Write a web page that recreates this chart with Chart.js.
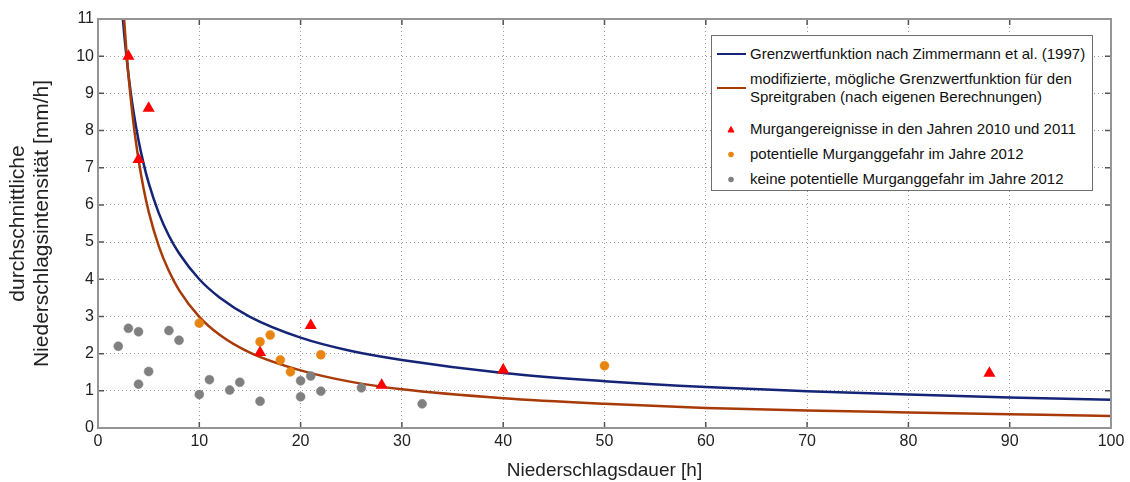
<!DOCTYPE html>
<html>
<head>
<meta charset="utf-8">
<script src="https://cdn.jsdelivr.net/npm/chart.js@4"></script>
<style>
  html, body { margin: 0; padding: 0; background: #fff; }
  #wrap { position: relative; width: 1130px; height: 482px; }
  #legend {
    position: absolute; left: 711px; top: 35px; width: 382px; height: 156px;
    border: 1px solid #6e6e6e; background: #fff; box-sizing: border-box;
    font-family: 'Liberation Sans', Arial, sans-serif; font-size: 15px; color: #111;
  }
  .lg-row { position: absolute; left: 0; right: 0; display: flex; align-items: center; }
  .lg-sym { width: 38px; height: 20px; position: relative; flex: none; }
  .lg-line { position: absolute; left: 5px; width: 29px; top: 9px; height: 2px; }
  .lg-txt { line-height: 18px; white-space: nowrap; }
</style>
</head>
<body>
<div id="wrap">
  <canvas id="chart" width="1130" height="482"></canvas>
  <div id="legend"></div>
</div>
<script>
// threshold curves, values
const curveX        = [2.4, 2.6, 2.8, 3, 3.5, 4, 4.5, 5, 6, 7, 8, 10, 12, 15, 20, 25, 30, 40, 50, 60, 70, 80, 90, 100];
const zimmermannY   = [11.18, 10.55, 10.01, 9.52, 8.52, 7.74, 7.11, 6.59, 5.78, 5.17, 4.70, 4.00, 3.51, 2.99, 2.43, 2.07, 1.83, 1.48, 1.26, 1.10, 0.99, 0.90, 0.82, 0.76];
const spreitgrabenY = [11.78, 10.91, 10.16, 9.51, 8.20, 7.22, 6.44, 5.82, 4.89, 4.22, 3.71, 2.99, 2.51, 2.03, 1.55, 1.24, 1.04, 0.80, 0.65, 0.54, 0.47, 0.42, 0.37, 0.32];

// Murgangereignisse 2010/2011
const eventX = [3, 5, 4, 16, 21, 28, 40, 88];
const eventY = [10.0, 8.6, 7.22, 2.03, 2.76, 1.15, 1.56, 1.47];
// potentielle Murganggefahr 2012
const dangerX = [10, 16, 17, 18, 19, 22, 50];
const dangerY = [2.82, 2.32, 2.5, 1.83, 1.51, 1.97, 1.675];
// keine potentielle Murganggefahr 2012
const safeX = [2, 3, 4, 4, 5, 7, 8, 10, 11, 13, 14, 16, 20, 20, 21, 22, 26, 32];
const safeY = [2.2, 2.68, 2.59, 1.18, 1.52, 2.62, 2.36, 0.9, 1.3, 1.02, 1.23, 0.72, 1.27, 0.84, 1.4, 0.99, 1.08, 0.65];

const xTicks = [0, 10, 20, 30, 40, 50, 60, 70, 80, 90, 100];
const yTicks = [0, 1, 2, 3, 4, 5, 6, 7, 8, 9, 10, 11];

const BLUE = 'rgb(20,36,118)', BROWN = 'rgb(168,58,8)', RED = 'rgb(255,0,0)',
      ORANGE = 'rgb(232,133,18)', GRAY = 'rgb(128,128,128)';
const FONT = "'Liberation Sans', Arial, sans-serif";

const pts = (xs, ys) => xs.map((x, i) => ({ x, y: ys[i] }));

const frame = {
  id: 'frame',
  afterDraw(chart) {
    const { ctx, chartArea: a, scales: { x, y } } = chart;
    ctx.save();
    ctx.strokeStyle = '#555';
    ctx.lineWidth = 1.5;
    xTicks.forEach(v => {
      const px = x.getPixelForValue(v);
      ctx.beginPath();
      ctx.moveTo(px, a.bottom); ctx.lineTo(px, a.bottom - 6);
      ctx.moveTo(px, a.top); ctx.lineTo(px, a.top + 6);
      ctx.stroke();
    });
    yTicks.forEach(v => {
      const py = y.getPixelForValue(v);
      ctx.beginPath();
      ctx.moveTo(a.left, py); ctx.lineTo(a.left + 6, py);
      ctx.moveTo(a.right, py); ctx.lineTo(a.right - 6, py);
      ctx.stroke();
    });
    ctx.strokeStyle = '#959595';
    ctx.lineWidth = 2;
    ctx.strokeRect(a.left, a.top, a.right - a.left, a.bottom - a.top);
    ctx.restore();
  }
};

const chart = new Chart(document.getElementById('chart'), {
  type: 'scatter',
  data: {
    datasets: [
      { label: 'Grenzwertfunktion nach Zimmermann et al. (1997)', type: 'line', data: pts(curveX, zimmermannY),
        borderColor: BLUE, borderWidth: 2.5, pointRadius: 0, cubicInterpolationMode: 'monotone', fill: false, order: 2 },
      { label: 'modifizierte, mögliche Grenzwertfunktion für den|Spreitgraben (nach eigenen Berechnungen)', type: 'line', data: pts(curveX, spreitgrabenY),
        borderColor: BROWN, borderWidth: 2.5, pointRadius: 0, cubicInterpolationMode: 'monotone', fill: false, order: 1 },
      { label: 'Murgangereignisse in den Jahren 2010 und 2011', data: pts(eventX, eventY),
        pointStyle: 'triangle', pointRadius: 5.5, backgroundColor: RED, borderColor: RED, borderWidth: 1.5, order: 0 },
      { label: 'potentielle Murganggefahr im Jahre 2012', data: pts(dangerX, dangerY),
        pointStyle: 'circle', pointRadius: 4.5, backgroundColor: ORANGE, borderColor: ORANGE, borderWidth: 0.5, order: 0 },
      { label: 'keine potentielle Murganggefahr im Jahre 2012', data: pts(safeX, safeY),
        pointStyle: 'circle', pointRadius: 4.5, backgroundColor: GRAY, borderColor: GRAY, borderWidth: 0.5, order: 0 },
    ],
  },
  options: {
    responsive: false, animation: false,
    layout: { padding: { left: 0, top: 19, right: 19, bottom: 0 } },
    plugins: { legend: { display: false }, tooltip: { enabled: false } },
    scales: {
      x: {
        type: 'linear', min: 0, max: 100,
        afterBuildTicks: s => { s.ticks = xTicks.map(v => ({ value: v })); },
        afterFit: s => { s.height = 54; },
        ticks: { color: '#222', font: { family: FONT, size: 16 }, padding: 4, maxRotation: 0 },
        grid: { color: 'rgba(120,120,120,0.75)', lineWidth: 1, drawTicks: false },
        border: { display: false, dash: [1, 3] },
        title: { display: true, text: 'Niederschlagsdauer [h]', color: '#222', font: { family: FONT, size: 19 }, padding: { top: 0, bottom: 0 } },
      },
      y: {
        type: 'linear', min: 0, max: 11,
        afterBuildTicks: s => { s.ticks = yTicks.map(v => ({ value: v })); },
        afterFit: s => { s.width = 98; },
        ticks: { color: '#222', font: { family: FONT, size: 16 }, padding: 4 },
        grid: { color: 'rgba(120,120,120,0.75)', lineWidth: 1, drawTicks: false },
        border: { display: false, dash: [1, 3] },
        title: { display: true, text: ['durchschnittliche', 'Niederschlagsintensität [mm/h]'], color: '#222',
                 font: { family: FONT, size: 21, lineHeight: 1.15 }, padding: { top: 6, bottom: 0 } },
      },
    },
  },
  plugins: [frame],
});

// legend box, built from the datasets
const rowCenters = [16.5, 52, 91.5, 116.5, 141.5];
const legendEl = document.getElementById('legend');
legendEl.innerHTML = chart.data.datasets.map((ds, i) => {
  let sym;
  if (ds.type === 'line') {
    sym = `<span class="lg-line" style="background:${ds.borderColor}"></span>`;
  } else if (ds.pointStyle === 'triangle') {
    sym = `<svg width="38" height="20" style="position:absolute;left:0;top:0"><polygon points="16,13 22,13 19,7.5" fill="${ds.backgroundColor}" stroke="${ds.backgroundColor}" stroke-width="1"/></svg>`;
  } else {
    sym = `<svg width="38" height="20" style="position:absolute;left:0;top:0"><circle cx="19" cy="10.5" r="2.8" fill="${ds.backgroundColor}"/></svg>`;
  }
  const lines = ds.label.split('|');
  const h = lines.length * 18;
  return `<div class="lg-row" style="top:${rowCenters[i] - h / 2}px">
    <span class="lg-sym">${sym}</span>
    <span class="lg-txt">${lines.join('<br>')}</span>
  </div>`;
}).join('');
</script>
</body>
</html>
